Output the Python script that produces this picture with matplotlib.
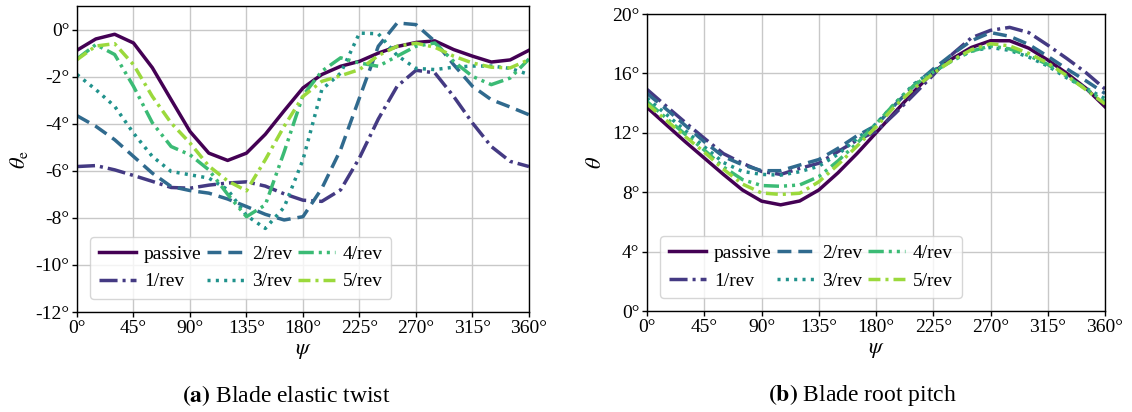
import numpy as np
import matplotlib
matplotlib.use("Agg")
import matplotlib.pyplot as plt
from matplotlib import cm

# ---------------- data ----------------
psi = [0, 15, 30, 45, 60, 75, 90, 105, 120, 135, 150, 165, 180,
       195, 210, 225, 240, 255, 270, 285, 300, 315, 330, 345, 360]
labels = ["passive", "1/rev", "2/rev", "3/rev", "4/rev", "5/rev"]

# (a) blade elastic twist theta_e [deg]
twist_passive = [-0.88, -0.40, -0.20, -0.57, -1.62, -2.98, -4.33, -5.25, -5.56, -5.25, -4.45, -3.45, -2.48,
                 -1.91, -1.56, -1.35, -1.00, -0.72, -0.55, -0.48, -0.85, -1.13, -1.38, -1.29, -0.88]
twist_1rev = [-5.82, -5.78, -5.96, -6.20, -6.45, -6.71, -6.74, -6.61, -6.52, -6.47, -6.65, -6.98, -7.25,
              -7.30, -6.81, -5.45, -3.80, -2.41, -1.73, -1.84, -2.84, -3.97, -4.97, -5.60, -5.82]
twist_2rev = [-3.66, -4.11, -4.68, -5.39, -6.10, -6.67, -6.84, -6.95, -7.20, -7.52, -7.85, -8.09, -7.95,
              -6.75, -5.10, -2.90, -0.71, 0.28, 0.21, -0.50, -1.49, -2.41, -2.98, -3.29, -3.62]
twist_3rev = [-1.91, -2.55, -3.26, -4.40, -5.39, -6.03, -6.17, -6.31, -6.80, -7.90, -8.45, -7.55, -5.53,
              -2.55, -1.85, -0.15, -0.18, -1.10, -1.65, -1.70, -1.60, -1.55, -1.55, -1.65, -1.91]
twist_4rev = [-1.25, -0.64, -1.06, -2.41, -3.96, -4.97, -5.32, -5.96, -7.00, -7.95, -7.45, -5.20, -2.80,
              -1.77, -1.20, -1.42, -1.56, -1.13, -0.71, -0.57, -1.35, -1.99, -2.34, -2.06, -1.25]
twist_5rev = [-1.28, -0.70, -0.60, -1.49, -2.84, -3.97, -4.82, -5.80, -6.43, -6.85, -5.53, -4.11, -2.84,
              -2.20, -1.96, -1.70, -1.10, -0.71, -0.58, -0.75, -1.13, -1.42, -1.60, -1.63, -1.28]

# (b) blade root pitch theta [deg]
pitch_passive = [13.71, 12.55, 11.40, 10.30, 9.20, 8.15, 7.40, 7.15, 7.41, 8.15, 9.30, 10.60, 12.00,
                 13.40, 14.80, 16.10, 17.00, 17.75, 18.20, 18.20, 17.70, 16.90, 16.00, 15.00, 13.75]
pitch_1rev = [14.92, 13.80, 12.70, 11.63, 10.60, 9.95, 9.40, 9.20, 9.60, 9.95, 10.73, 11.50, 12.10,
              13.30, 14.60, 15.90, 17.30, 18.40, 18.90, 19.10, 18.75, 17.90, 17.00, 16.05, 14.95]
pitch_2rev = [14.65, 13.60, 12.50, 11.40, 10.40, 9.85, 9.45, 9.45, 9.83, 10.20, 10.95, 11.80, 12.50,
              13.90, 15.20, 16.30, 17.30, 18.20, 18.75, 18.50, 17.95, 17.15, 16.30, 15.50, 14.65]
pitch_3rev = [14.32, 13.25, 12.15, 11.06, 10.00, 9.40, 9.20, 9.15, 9.38, 9.75, 10.55, 11.60, 12.60,
              14.00, 15.30, 16.20, 16.90, 17.50, 17.75, 17.55, 17.10, 16.50, 15.70, 15.00, 14.30]
pitch_4rev = [14.10, 13.00, 11.90, 10.84, 9.70, 8.85, 8.45, 8.40, 8.49, 9.05, 10.10, 11.30, 12.60,
              14.00, 15.20, 16.10, 16.85, 17.50, 17.85, 17.65, 17.20, 16.60, 15.80, 14.95, 14.10]
pitch_5rev = [13.94, 12.85, 11.75, 10.70, 9.55, 8.55, 7.95, 7.85, 7.93, 8.70, 9.85, 11.10, 12.40,
              13.80, 15.00, 16.00, 16.90, 17.60, 18.00, 17.85, 17.35, 16.70, 15.85, 14.90, 13.94]

x_ticks = [0, 45, 90, 135, 180, 225, 270, 315, 360]
twist_ticks = [0, -2, -4, -6, -8, -10, -12]
pitch_ticks = [0, 4, 8, 12, 16, 20]

# ---------------- style ----------------
plt.rcParams["font.family"] = ["Liberation Serif", "DejaVu Serif"]
plt.rcParams["mathtext.fontset"] = "stix"
plt.rcParams["lines.scale_dashes"] = False
FS = 14

colors = cm.viridis(np.linspace(0, 0.85, 6))
styles = [
    "-",
    (0, (13, 3.6, 2.2, 3.6)),
    (0, (10, 5)),
    (0, (2.2, 3.8)),
    (0, (11, 3.6, 2.2, 3.6, 2.2, 3.6)),
    (0, (8.6, 3.6, 2.2, 3.6)),
]
LW = 2.5

fig = plt.figure(figsize=(11.32, 4.12), dpi=100)
ax1 = fig.add_axes([0.068, 0.2427, 0.3993, 0.7427])
ax2 = fig.add_axes([0.5716, 0.2451, 0.4046, 0.7209])

twist = [twist_passive, twist_1rev, twist_2rev, twist_3rev, twist_4rev, twist_5rev]
pitch = [pitch_passive, pitch_1rev, pitch_2rev, pitch_3rev, pitch_4rev, pitch_5rev]

for ax, series, yt, ylim, ylab in [
    (ax1, twist, twist_ticks, (-12, 1), r"$\theta_\mathrm{e}$"),
    (ax2, pitch, pitch_ticks, (0, 20), r"$\theta$"),
]:
    for i, ys in enumerate(series):
        ax.plot(psi, ys, color=colors[i], ls=styles[i], lw=LW, label=labels[i],
                dash_capstyle="butt", solid_joinstyle="round")
    ax.set_xlim(0, 360)
    ax.set_ylim(*ylim)
    ax.set_xticks(x_ticks)
    ax.set_xticklabels([f"{v}°" for v in x_ticks], fontsize=FS)
    ax.set_yticks(yt)
    ax.set_yticklabels([f"{v}°" for v in yt], fontsize=FS)
    ax.grid(True, color="#c8c8c8", lw=1.0)
    ax.set_axisbelow(True)
    ax.tick_params(direction="out", length=3.5, width=1.0, pad=2)
    for s in ax.spines.values():
        s.set_linewidth(1.0)
        s.set_color("black")
    ax.set_xlabel(r"$\psi$", fontsize=FS + 2, labelpad=4)
    ax.set_ylabel(ylab, fontsize=FS + 2, labelpad=4)
    leg = ax.legend(loc="lower left", ncol=3, fontsize=FS, frameon=True, fancybox=True,
                    handlelength=1.9, columnspacing=0.3, handletextpad=0.4,
                    borderpad=0.45, labelspacing=0.5, bbox_to_anchor=(0.008, 0.01))
    leg.get_frame().set_edgecolor("#cccccc")
    leg.get_frame().set_linewidth(1.0)

fig.text(0.253, 0.041, r"$\mathbf{(a)}$ Blade elastic twist", ha="center", va="center", fontsize=17)
fig.text(0.762, 0.041, r"$\mathbf{(b)}$ Blade root pitch", ha="center", va="center", fontsize=17)

fig.savefig("out.png", dpi=100)
